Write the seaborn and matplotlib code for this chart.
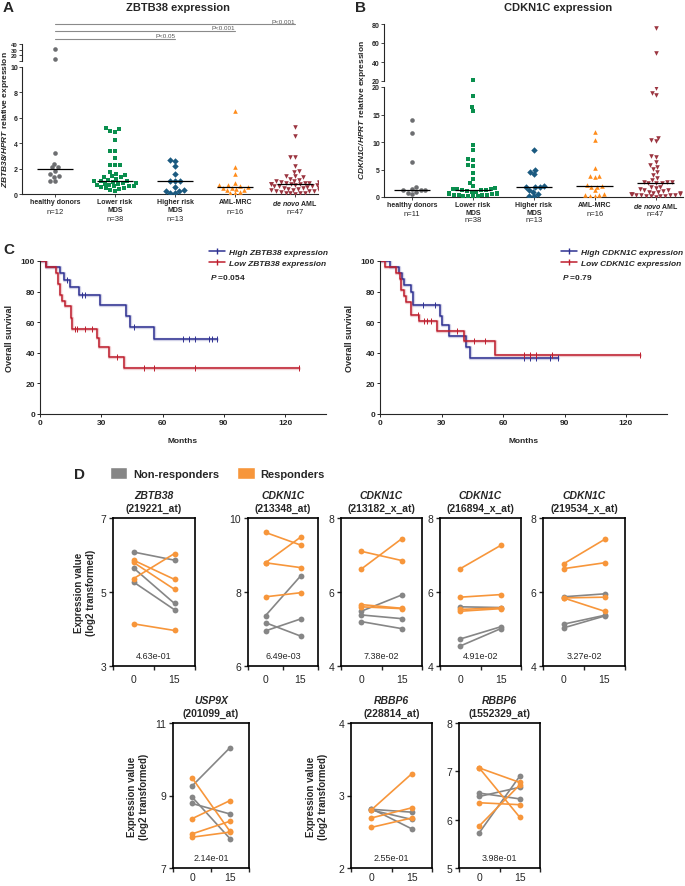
import warnings
import numpy as np
import pandas as pd
import matplotlib
matplotlib.use("Agg")
import matplotlib.pyplot as plt
import matplotlib.transforms as mtransforms
from matplotlib.lines import Line2D
from matplotlib.patches import Patch
import seaborn as sns

warnings.filterwarnings("ignore")

# ---------------- panel A: ZBTB38/HPRT ----------------
zbtb38_healthy = [31, 14, 3.2, 2.4, 2.15, 2.1, 1.85, 1.6, 1.4, 1.35, 1.05, 1.0]
zbtb38_lower_mds = [5.2, 5.1, 5.0, 4.9, 4.25, 3.4, 3.4, 2.85, 2.3, 2.3, 2.25, 1.7, 1.6,
                    1.5, 1.4, 1.3, 1.3, 1.2, 1.0, 1.1, 1.0, 1.0, 0.95, 0.9, 0.9, 0.8, 0.8,
                    0.7, 0.7, 0.6, 0.6, 0.6, 0.55, 0.5, 0.45, 0.4, 0.3, 0.25]
zbtb38_higher_mds = [2.65, 2.6, 2.2, 1.6, 1.05, 1.0, 1.0, 0.55, 0.3, 0.25, 0.2, 0.05, 0.05]
zbtb38_aml_mrc = [6.5, 2.1, 1.6, 0.9, 0.7, 0.7, 0.6, 0.55, 0.5, 0.45, 0.4, 0.35, 0.35,
                  0.15, 0.1, 0.05]
zbtb38_denovo = [5.3, 4.6, 2.95, 2.9, 2.2, 1.8, 1.75, 1.4, 1.4, 1.3, 1.2, 1.1, 1.05, 1.0,
                 0.95, 0.95, 0.9, 0.9, 0.85, 0.85, 0.8, 0.8, 0.8, 0.75, 0.7, 0.7, 0.65,
                 0.6, 0.6, 0.55, 0.5, 0.5, 0.45, 0.4, 0.4, 0.35, 0.3, 0.3, 0.25, 0.2, 0.2,
                 0.15, 0.1, 0.1, 0.05, 0.05, 0.02]
zbtb38_sig = [(0, 4, "P<0.001"), (0, 3, "P<0.001"), (0, 2, "P<0.05")]

# ---------------- panel B: CDKN1C/HPRT ----------------
cdkn1c_healthy = [14.0, 11.6, 6.4, 1.9, 1.45, 1.3, 1.25, 1.2, 1.0, 0.8, 0.5]
cdkn1c_lower_mds = [21, 18.3, 16.4, 15.6, 9.5, 8.5, 7.0, 6.8, 5.8, 5.6, 4.3, 3.3, 2.6, 2.0,
                    1.6, 1.5, 1.4, 1.4, 1.3, 1.3, 1.2, 1.1, 1.0, 0.9, 0.8, 0.8, 0.7, 0.6,
                    0.5, 0.5, 0.4, 0.4, 0.3, 0.3, 0.2, 0.2, 0.1, 0.1]
cdkn1c_higher_mds = [8.6, 4.9, 4.6, 4.1, 2.0, 1.9, 1.9, 1.8, 1.3, 1.0, 0.6, 0.2, 0.1]
cdkn1c_aml_mrc = [11.8, 10.4, 5.3, 3.9, 3.8, 3.6, 2.1, 2.0, 1.9, 1.8, 1.2, 0.5, 0.4, 0.3,
                  0.2, 0.1]
cdkn1c_denovo = [76, 49, 19.9, 19.0, 18.5, 10.8, 10.3, 10.1, 7.5, 7.3, 6.3, 5.8, 5.5, 5.1,
                 4.6, 4.0, 3.4, 3.1, 2.8, 2.7, 2.65, 2.6, 2.55, 2.5, 1.9, 1.8, 1.6, 1.5,
                 1.3, 1.2, 1.1, 1.0, 0.9, 0.8, 0.7, 0.6, 0.5, 0.5, 0.4, 0.4, 0.3, 0.3,
                 0.2, 0.2, 0.1, 0.1, 0.05]

group_keys = ["healthy", "lower", "higher", "mrc", "denovo"]
group_labels = ["healthy donors", "Lower risk\nMDS", "Higher risk\nMDS", "AML-MRC",
                r"$\mathbfit{de\ novo}$ AML"]
group_markers = ["o", "s", "D", "^", "v"]
group_colors = ["#6D6E71", "#0A8F4E", "#1B5A80", "#FF8C1A", "#9B3540"]

# ---------------- panel C: Kaplan-Meier ----------------
km_high_zbtb38_t = [0, 2.8, 9.8, 11.7, 14.6, 19, 29.6, 42.3, 44, 56, 86.8]
km_high_zbtb38_s = [100, 96, 92, 87.5, 83, 78, 71.5, 64, 57, 49, 49]
km_high_zbtb38_cens = [13.3, 20.6, 21.8, 45.9, 69.9, 72.7, 75.9, 82.9, 84, 86.8]
km_low_zbtb38_t = [0, 2.8, 7.6, 8.8, 9.8, 10.9, 12, 15, 15.8, 28, 28.8, 33.7, 41, 127]
km_low_zbtb38_s = [100, 96, 92, 85, 78, 74, 70.5, 63, 55.5, 50, 43.5, 37, 30, 30]
km_low_zbtb38_cens = [16.9, 17.9, 21.8, 25.5, 37.7, 50.7, 55.9, 75.9, 126.8]

km_high_cdkn1c_t = [0, 4.9, 9.4, 10.5, 11.7, 14.9, 15.9, 29.2, 30, 33.7, 41.8, 43.8, 86.8]
km_high_cdkn1c_s = [100, 96, 92, 88, 84, 80, 71, 64, 58, 51, 43.5, 36.5, 36.5]
km_high_cdkn1c_cens = [21, 26.6, 70, 73, 76, 83, 86.8]
km_low_cdkn1c_t = [0, 2.4, 7.6, 9.7, 10.4, 11.7, 12.5, 14.9, 19.1, 27.9, 40.8, 55.9, 127]
km_low_cdkn1c_s = [100, 96, 92, 88, 81, 77, 73.5, 65, 61, 54.5, 48, 38.5, 38.5]
km_low_cdkn1c_cens = [18.5, 21.4, 23, 25, 37.6, 46, 51, 70, 73, 76, 84, 127]

# ---------------- panel D: paired expression (day 0, day 15) ----------------
zbtb38_219221_non = [[6.08, 5.86], [5.65, 4.69], [5.27, 4.52]]
zbtb38_219221_resp = [[5.86, 5.34], [5.80, 5.07], [5.36, 6.04], [4.14, 3.96]]
cdkn1c_213348_non = [[7.36, 8.43], [7.17, 6.81], [6.95, 7.27]]
cdkn1c_213348_resp = [[9.61, 9.27], [8.79, 9.48], [8.79, 8.66], [7.87, 7.98]]
cdkn1c_213182_non = [[5.48, 5.92], [5.38, 5.28], [5.20, 5.01]]
cdkn1c_213182_resp = [[7.10, 6.85], [6.62, 7.44], [5.66, 5.56], [5.60, 5.55]]
cdkn1c_216894_non = [[5.60, 5.58], [4.73, 5.06], [4.54, 5.01]]
cdkn1c_216894_resp = [[6.63, 7.26], [5.86, 5.93], [5.53, 5.57], [5.48, 5.55]]
cdkn1c_219534_non = [[5.87, 5.95], [5.13, 5.37], [5.03, 5.35]]
cdkn1c_219534_resp = [[6.76, 7.42], [6.63, 6.79], [5.84, 5.86], [5.84, 5.48]]
usp9x_201099_non = [[9.26, 10.32], [8.96, 7.81], [8.78, 8.49]]
usp9x_201099_resp = [[9.49, 8.01], [8.36, 8.86], [7.94, 8.29], [7.85, 7.99]]
rbbp6_228814_non = [[2.81, 2.77], [2.80, 2.67], [2.82, 2.54]]
rbbp6_228814_resp = [[2.80, 3.30], [2.69, 2.83], [2.56, 2.69]]
rbbp6_1552329_non = [[6.55, 6.43], [6.48, 6.67], [5.73, 6.90]]
rbbp6_1552329_resp = [[7.07, 6.05], [7.07, 6.77], [6.35, 6.31], [5.87, 6.72]]
d_pvalues = ["4.63e-01", "6.49e-03", "7.38e-02", "4.91e-02", "3.27e-02",
             "2.14e-01", "2.55e-01", "3.98e-01"]
d_timepoints = ["0", "15"]

# ---------------- style ----------------
sns.set_style("ticks")
plt.rcParams["font.family"] = ["Liberation Sans", "DejaVu Sans"]
plt.rcParams["mathtext.fontset"] = "custom"
plt.rcParams["mathtext.rm"] = "Liberation Sans"
plt.rcParams["mathtext.it"] = "Liberation Sans:italic"
plt.rcParams["mathtext.bf"] = "Liberation Sans:bold"
plt.rcParams["mathtext.bfit"] = "Liberation Sans:italic:bold"

W, H = 685, 887
fig = plt.figure(figsize=(W / 100, H / 100), dpi=100)
fig.patch.set_facecolor("white")


def add_ax(x0, y0, x1, y1):
    return fig.add_axes([x0 / W, 1 - y1 / H, (x1 - x0) / W, (y1 - y0) / H])


def bold_ticks(ax, size):
    for lab in ax.get_xticklabels() + ax.get_yticklabels():
        lab.set_fontweight("bold")
        lab.set_fontsize(size)


def dot_columns(ax, ax_top, columns, cut, xlim, ylim, ylim_top, yticks, yticks_top,
                top_labels, n_y):
    for i, vals in enumerate(columns):
        df = pd.DataFrame({"group": group_keys[i], "value": vals})
        sns.swarmplot(data=df, x="group", y="value", order=group_keys,
                      marker=group_markers[i], color=group_colors[i], size=3.3,
                      linewidth=0, ax=ax)
        hi = df[df["value"] > cut]
        if len(hi):
            sns.swarmplot(data=hi, x="group", y="value", order=group_keys,
                          marker=group_markers[i], color=group_colors[i], size=3.3,
                          linewidth=0, ax=ax_top)
        ax.hlines(np.median(vals), i - 0.3, i + 0.3, color="black", lw=0.9, zorder=4)

    for a in (ax, ax_top):
        a.set_xlim(*xlim)
        a.set_xlabel("")
        a.set_ylabel("")
        a.spines[["top", "right"]].set_visible(False)
        a.spines[["left", "bottom"]].set_linewidth(0.8)
        a.tick_params(length=2, width=0.6, pad=1)
    ax.set_ylim(*ylim)
    ax.set_yticks(yticks)
    ax_top.set_ylim(*ylim_top)
    ax_top.set_yticks(yticks_top)
    ax_top.set_yticklabels(top_labels)
    ax_top.spines["bottom"].set_visible(False)
    ax_top.tick_params(axis="x", bottom=False, labelbottom=False)
    ax.set_xticks(range(len(group_keys)))
    ax.set_xticklabels(group_labels)
    bold_ticks(ax, 5)
    bold_ticks(ax_top, 5 if len(yticks_top) < 5 and ylim_top[1] > 50 else 4.2)

    trans = mtransforms.blended_transform_factory(ax.transData, fig.transFigure)
    for i, vals in enumerate(columns):
        y = n_y[1] if "\n" in group_labels[i] else n_y[0]
        ax.text(i, 1 - y / H, f"n={len(vals)}", transform=trans, ha="center",
                va="center", fontsize=5.5)


# ---------------- A ----------------
axA = add_ax(22, 68, 318, 195)
axA_top = add_ax(22, 45, 318, 62)
dot_columns(axA, axA_top,
            [zbtb38_healthy, zbtb38_lower_mds, zbtb38_higher_mds, zbtb38_aml_mrc,
             zbtb38_denovo],
            10, (-0.55, 4.38), (0, 10), (10, 40), [0, 2, 4, 6, 8, 10], [10, 20, 30, 40],
            ["", "20", "30", "40"], (212, 220))
transA = mtransforms.blended_transform_factory(axA.transData, fig.transFigure)
for (a, b, lab), y in zip(zbtb38_sig, [25, 32, 40]):
    axA.plot([a, b], [1 - y / H] * 2, transform=transA, color="#8A8A8A", lw=0.8,
             clip_on=False)
    axA.text(b, 1 - (y - 0.5) / H, lab, transform=transA, ha="right", va="bottom",
             fontsize=4.5, color="#555555")
fig.text(3 / W, 1 - 8 / H, "A", fontsize=11, fontweight="bold", va="center")
fig.text(178 / W, 1 - 8 / H, "ZBTB38 expression", fontsize=8, fontweight="bold",
         ha="center", va="center")
fig.text(6 / W, 1 - 120 / H, r"$\mathbfit{ZBTB38/HPRT}$ relative expression",
         rotation=90, fontsize=6, fontweight="bold", ha="center", va="center")

# ---------------- B ----------------
axB = add_ax(384, 88, 683, 198)
axB_top = add_ax(384, 25, 683, 82)
dot_columns(axB, axB_top,
            [cdkn1c_healthy, cdkn1c_lower_mds, cdkn1c_higher_mds, cdkn1c_aml_mrc,
             cdkn1c_denovo],
            20, (-0.46, 4.45), (0, 20), (20, 80), [0, 5, 10, 15, 20], [20, 40, 60, 80],
            ["20", "40", "60", "80"], (214, 221))
fig.text(355 / W, 1 - 8 / H, "B", fontsize=11, fontweight="bold", va="center")
fig.text(558 / W, 1 - 8 / H, "CDKN1C expression", fontsize=8, fontweight="bold",
         ha="center", va="center")
fig.text(362 / W, 1 - 110 / H, r"$\mathbfit{CDKN1C/HPRT}$ relative expression",
         rotation=90, fontsize=6, fontweight="bold", ha="center", va="center")

# ---------------- C ----------------
km_blue, km_red = "#2E3192", "#BE1E2D"


def step_value(times, surv, t):
    idx = np.searchsorted(times, t, side="right") - 1
    return surv[idx]


def km_panel(ax, curves, gene, pval, leg_x):
    for t, s, cens, c in curves:
        sns.lineplot(x=t, y=s, drawstyle="steps-post", color=c, lw=2.4, alpha=0.22,
                     estimator=None, ax=ax)
        sns.lineplot(x=t, y=s, drawstyle="steps-post", color=c, lw=1.1,
                     estimator=None, ax=ax)
        cy = [step_value(t, s, x) for x in cens]
        sns.scatterplot(x=cens, y=cy, marker="|", s=14, color=c, linewidth=0.7,
                        ax=ax, zorder=5)
    ax.set_xlim(0, 140)
    ax.set_ylim(0, 100)
    ax.set_xticks([0, 30, 60, 90, 120])
    ax.set_yticks([0, 20, 40, 60, 80, 100])
    ax.spines[["top", "right"]].set_visible(False)
    ax.spines[["left", "bottom"]].set_linewidth(0.8)
    ax.tick_params(length=2, width=0.7, pad=1.5)
    bold_ticks(ax, 6)
    ax.set_xlabel("Months", fontsize=6, fontweight="bold", labelpad=8)
    ax.set_ylabel("Overall survival", fontsize=6.5, fontweight="bold", labelpad=5)
    handles = [Line2D([], [], color=km_blue, lw=1.1, marker="|", markersize=4),
               Line2D([], [], color=km_red, lw=1.1, marker="|", markersize=4)]
    fig.legend(handles, [f"High {gene} expression", f"Low {gene} expression"],
               loc="upper left", bbox_to_anchor=(leg_x / W, 1 - 245 / H),
               frameon=False, handlelength=1.9, handletextpad=0.5,
               labelspacing=0.35, borderpad=0,
               prop={"style": "italic", "weight": "bold", "size": 6})
    fig.text((leg_x + 5) / W, 1 - 278 / H, r"$\mathbfit{P}$ =" + pval, fontsize=6,
             fontweight="bold", va="center")


axC1 = add_ax(40, 262, 326, 415)
km_panel(axC1,
         [(km_high_zbtb38_t, km_high_zbtb38_s, km_high_zbtb38_cens, km_blue),
          (km_low_zbtb38_t, km_low_zbtb38_s, km_low_zbtb38_cens, km_red)],
         "ZBTB38", "0.054", 205)
axC2 = add_ax(380, 262, 667, 415)
km_panel(axC2,
         [(km_high_cdkn1c_t, km_high_cdkn1c_s, km_high_cdkn1c_cens, km_blue),
          (km_low_cdkn1c_t, km_low_cdkn1c_s, km_low_cdkn1c_cens, km_red)],
         "CDKN1C", "0.79", 557)
fig.text(3 / W, 1 - 250 / H, "C", fontsize=11, fontweight="bold", va="center")

# ---------------- D ----------------
d_gray, d_orange = "#868686", "#F7963B"
d_palette = {"Non-responders": d_gray, "Responders": d_orange}


def paired_panel(box, gene, probe, non, resp, ylim, yticks, pval, ylabel_x=None,
                 xpad=6):
    x0, y0, x1, y1 = box
    ax = add_ax(x0, y0, x1, y1)
    rows = []
    for grp, pairs in (("Non-responders", non), ("Responders", resp)):
        for k, pair in enumerate(pairs):
            for pos, v in enumerate(pair):
                rows.append({"unit": f"{grp}{k}", "pos": pos, "value": v, "grp": grp})
    df = pd.DataFrame(rows)
    sns.lineplot(data=df, x="pos", y="value", hue="grp", units="unit", estimator=None,
                 palette=d_palette, marker="o", markersize=4.2, markeredgewidth=0,
                 lw=1.2, legend=False, ax=ax)
    ax.set_xlim(-0.5, 1.5)
    ax.set_ylim(*ylim)
    ax.set_yticks(yticks)
    ax.set_xticks([0, 1])
    ax.set_xticklabels(d_timepoints)
    ax.set_xticks([-0.5, 0.5, 1.5], minor=True)
    ax.tick_params(axis="x", which="major", length=0, pad=xpad, labelsize=7.5)
    ax.tick_params(axis="x", which="minor", length=3, width=1)
    ax.tick_params(axis="y", length=3, width=1, pad=2, labelsize=7.5)
    for sp in ax.spines.values():
        sp.set_linewidth(1.2)
        sp.set_color("black")
    ax.set_xlabel("")
    ax.set_ylabel("")
    ax.text(0.5, 0.07, pval, transform=ax.transAxes, ha="center", va="center",
            fontsize=6.5)
    ax.annotate(gene, xy=(0.5, 1), xycoords="axes fraction", xytext=(0, 16.5),
                textcoords="offset points", ha="center", va="center", fontsize=7.5,
                fontweight="bold", fontstyle="italic")
    ax.annotate(probe, xy=(0.5, 1), xycoords="axes fraction", xytext=(0, 7),
                textcoords="offset points", ha="center", va="center", fontsize=7.5,
                fontweight="bold")
    if ylabel_x is not None:
        ax.text((ylabel_x - x0) / (x1 - x0), 0.5, "Expression value\n(log2 transformed)",
                transform=ax.transAxes, rotation=90, ha="center", va="center",
                fontsize=7, fontweight="bold", multialignment="center")
    return ax


paired_panel((113, 519, 195, 667), "ZBTB38", "(219221_at)", zbtb38_219221_non,
             zbtb38_219221_resp, (3, 7), [3, 5, 7], d_pvalues[0], ylabel_x=85)
paired_panel((248, 519, 318, 667), "CDKN1C", "(213348_at)", cdkn1c_213348_non,
             cdkn1c_213348_resp, (6, 10), [6, 8, 10], d_pvalues[1])
paired_panel((341, 519, 422, 667), "CDKN1C", "(213182_x_at)", cdkn1c_213182_non,
             cdkn1c_213182_resp, (4, 8), [4, 6, 8], d_pvalues[2])
paired_panel((440, 519, 521, 667), "CDKN1C", "(216894_x_at)", cdkn1c_216894_non,
             cdkn1c_216894_resp, (4, 8), [4, 6, 8], d_pvalues[3])
paired_panel((543, 519, 625, 667), "CDKN1C", "(219534_x_at)", cdkn1c_219534_non,
             cdkn1c_219534_resp, (4, 8), [4, 6, 8], d_pvalues[4])
paired_panel((173, 724, 249, 869), "USP9X", "(201099_at)", usp9x_201099_non,
             usp9x_201099_resp, (7, 11), [7, 9, 11], d_pvalues[5], ylabel_x=138,
             xpad=3)
paired_panel((351, 724, 432, 869), "RBBP6", "(228814_at)", rbbp6_228814_non,
             rbbp6_228814_resp, (2, 4), [2, 3, 4], d_pvalues[6], ylabel_x=317, xpad=3)
paired_panel((459, 724, 540, 869), "RBBP6", "(1552329_at)", rbbp6_1552329_non,
             rbbp6_1552329_resp, (5, 8), [5, 6, 7, 8], d_pvalues[7], xpad=3)

fig.legend([Patch(facecolor=d_gray), Patch(facecolor=d_orange)],
           ["Non-responders", "Responders"], loc="center left",
           bbox_to_anchor=(104 / W, 1 - 474 / H), ncol=2, frameon=False,
           handlelength=1.6, handleheight=1.4, handletextpad=0.5, columnspacing=1.6,
           borderpad=0, prop={"weight": "bold", "size": 8})
fig.text(74 / W, 1 - 475 / H, "D", fontsize=11, fontweight="bold", va="center")

fig.savefig("out.png", dpi=100)
